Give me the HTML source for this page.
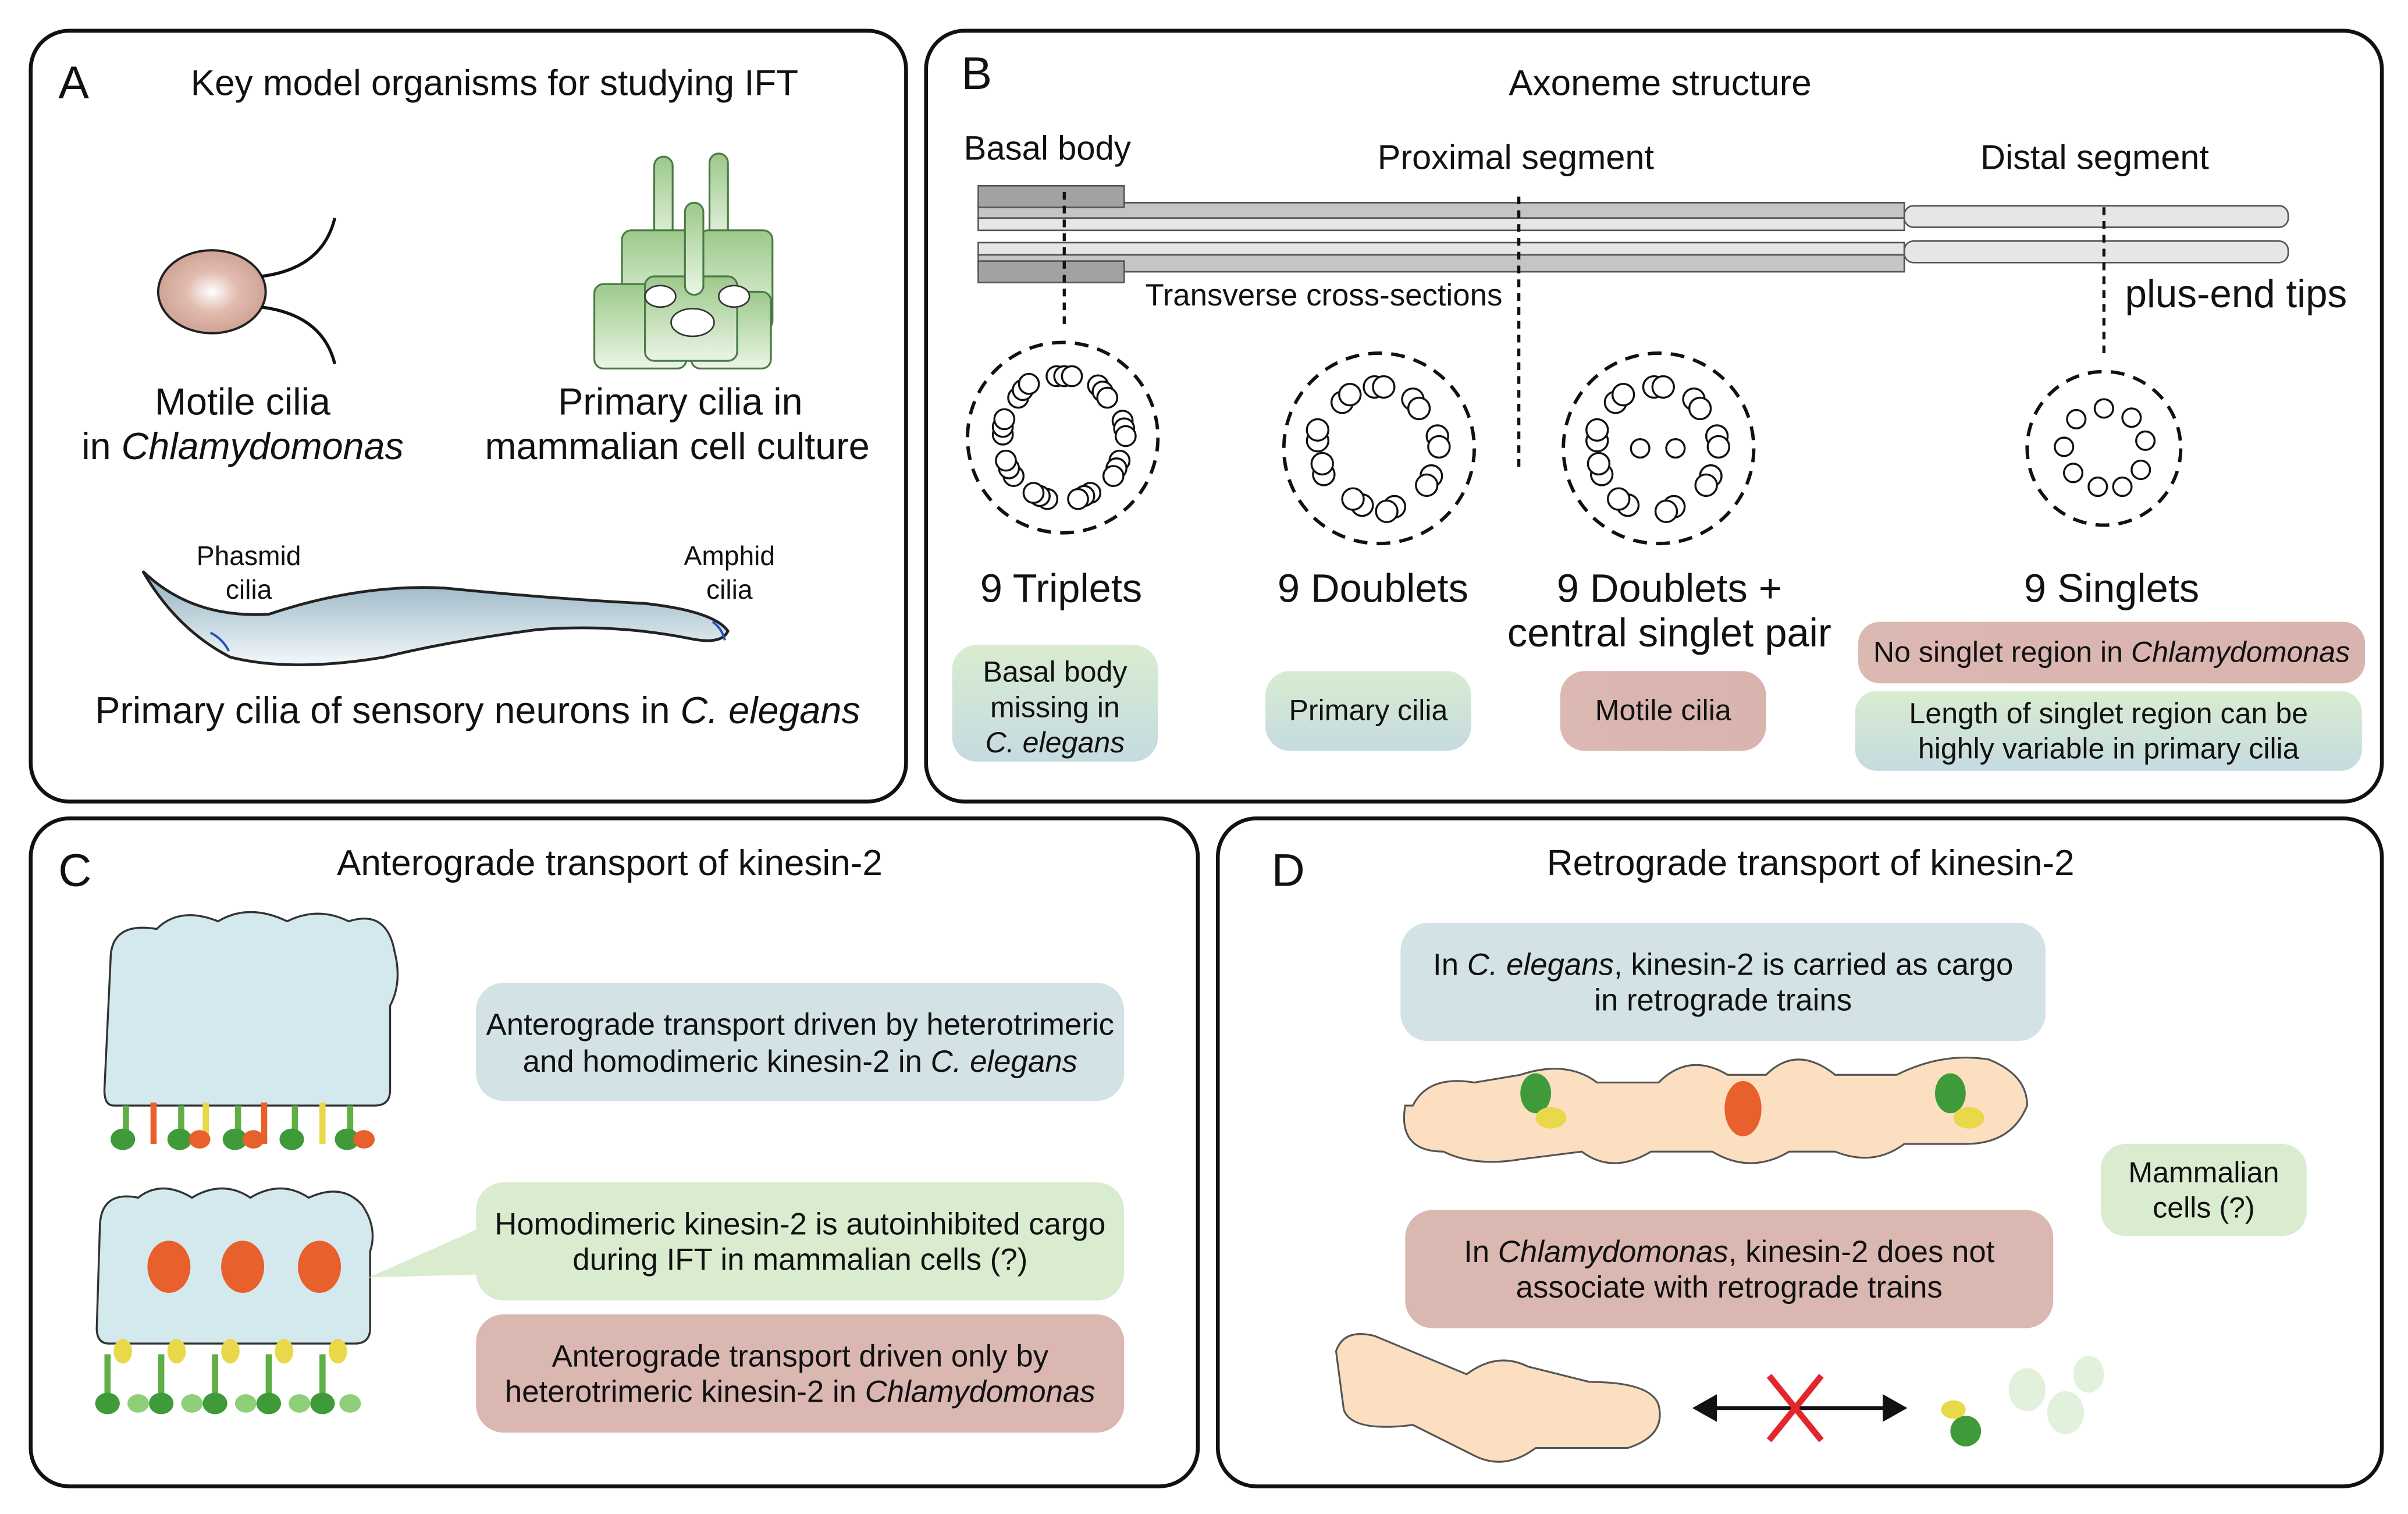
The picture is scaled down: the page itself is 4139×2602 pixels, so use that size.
<!DOCTYPE html>
<html><head><meta charset="utf-8"><style>
html,body{margin:0;padding:0;background:#fff;width:4139px;height:2602px;overflow:hidden}
svg{display:block}
text{font-family:"Liberation Sans",sans-serif;fill:#111}
</style></head><body>
<svg width="4139" height="2602" viewBox="0 0 1568 986" preserveAspectRatio="none" xmlns="http://www.w3.org/2000/svg">
<defs>
<linearGradient id="gb" x1="0" y1="0" x2="0" y2="1"><stop offset="0" stop-color="#d9ecd0"/><stop offset="1" stop-color="#c5dbe0"/></linearGradient>
<linearGradient id="gr" x1="0" y1="0" x2="1" y2="0"><stop offset="0" stop-color="#dcb8b2"/><stop offset="1" stop-color="#d9b3ad"/></linearGradient>
<linearGradient id="gg" x1="0" y1="0" x2="0" y2="1"><stop offset="0" stop-color="#9cc98a"/><stop offset="1" stop-color="#eaf5e5"/></linearGradient>
<linearGradient id="gw" x1="0" y1="0" x2="0" y2="1"><stop offset="0" stop-color="#8fb0bf"/><stop offset="1" stop-color="#f4f8fa"/></linearGradient>
<radialGradient id="gc" cx="0.5" cy="0.5" r="0.6"><stop offset="0" stop-color="#fff"/><stop offset="0.4" stop-color="#e2bcb0"/><stop offset="1" stop-color="#c99a8c"/></radialGradient>
</defs>
<g fill="none" stroke="#111" stroke-width="2.5">
<rect x="20" y="20" width="570" height="502" rx="25"/>
<rect x="603" y="20" width="948" height="502" rx="25"/>
<rect x="20" y="533" width="760" height="435" rx="25"/>
<rect x="793" y="533" width="758" height="435" rx="25"/>
</g>
<!-- Panel A -->
<text x="38" y="64" font-size="30">A</text>
<text x="322" y="62" font-size="23.5" text-anchor="middle">Key model organisms for studying IFT</text>
<ellipse cx="138" cy="190" rx="35" ry="27" fill="url(#gc)" stroke="#222" stroke-width="1.5"/>
<path d="M170 180 Q210 175 218 142 M170 200 Q210 205 218 237" fill="none" stroke="#111" stroke-width="2"/>
<text x="158" y="270" font-size="24.5" text-anchor="middle">Motile cilia</text>
<text x="158" y="299" font-size="24.5" text-anchor="middle">in <tspan font-style="italic">Chlamydomonas</tspan></text>
<g stroke="#4a7a45" stroke-width="1.2" fill="url(#gg)">
<rect x="426" y="102" width="12" height="60" rx="6"/><rect x="462" y="100" width="12" height="60" rx="6"/>
<rect x="405" y="150" width="52" height="60" rx="6"/><rect x="455" y="150" width="48" height="65" rx="6"/>
<rect x="387" y="185" width="60" height="55" rx="6"/><rect x="450" y="190" width="52" height="50" rx="6"/>
<rect x="420" y="180" width="60" height="55" rx="6"/>
<rect x="446" y="132" width="12" height="60" rx="6"/>
</g>
<ellipse cx="451" cy="210" rx="14" ry="9" fill="#fff" stroke="#333"/>
<ellipse cx="430" cy="193" rx="10" ry="7" fill="#fff" stroke="#333"/>
<ellipse cx="478" cy="193" rx="10" ry="7" fill="#fff" stroke="#333"/>
<text x="443" y="270" font-size="24.5" text-anchor="middle">Primary cilia in</text>
<text x="441" y="299" font-size="24.5" text-anchor="middle">mammalian cell culture</text>
<path d="M93 372 Q125 403 175 400 Q235 380 290 383 Q360 390 420 393 Q465 398 474 411 Q470 420 450 416 Q400 406 350 410 Q290 418 250 428 Q190 438 150 428 Q115 410 93 372 Z" fill="url(#gw)" stroke="#222" stroke-width="1.8"/>
<path d="M137 412 q8 4 12 12 M464 405 q6 4 8 12" stroke="#2a4fbf" stroke-width="1.5" fill="none"/>
<text x="162" y="368" font-size="17.5" text-anchor="middle">Phasmid</text><text x="162" y="390" font-size="17.5" text-anchor="middle">cilia</text>
<text x="475" y="368" font-size="17.5" text-anchor="middle">Amphid</text><text x="475" y="390" font-size="17.5" text-anchor="middle">cilia</text>
<text x="311" y="471" font-size="24.5" text-anchor="middle">Primary cilia of sensory neurons in <tspan font-style="italic">C. elegans</tspan></text>
<!-- Panel B -->
<text x="626" y="58" font-size="30">B</text>
<text x="1081" y="62" font-size="23.5" text-anchor="middle">Axoneme structure</text>
<text x="682" y="104" font-size="22" text-anchor="middle">Basal body</text>
<text x="987" y="110" font-size="22.5" text-anchor="middle">Proximal segment</text>
<text x="1364" y="110" font-size="22.5" text-anchor="middle">Distal segment</text>
<g stroke="#555" stroke-width="1">
<rect x="637" y="132" width="603" height="10" fill="#c5c5c7"/>
<rect x="637" y="142" width="603" height="8" fill="#e6e6e6"/>
<rect x="1240" y="134" width="250" height="14" rx="6" fill="#e6e6e6"/>
<rect x="637" y="158" width="603" height="8" fill="#e6e6e6"/>
<rect x="637" y="166" width="603" height="11" fill="#c5c5c7"/>
<rect x="1240" y="157" width="250" height="14" rx="6" fill="#e6e6e6"/>
<rect x="637" y="121" width="95" height="14" fill="#a2a2a4"/>
<rect x="637" y="170" width="95" height="14" fill="#a2a2a4"/>
</g>
<g stroke="#111" stroke-width="2" stroke-dasharray="5,4">
<line x1="693" y1="125" x2="693" y2="212"/>
<line x1="989" y1="128" x2="989" y2="306"/>
<line x1="1370" y1="135" x2="1370" y2="230"/>
</g>
<text x="862" y="199" font-size="20" text-anchor="middle">Transverse cross-sections</text>
<text x="1456" y="200" font-size="25.5" text-anchor="middle">plus-end tips</text>
<g fill="none" stroke="#111" stroke-width="2.2" stroke-dasharray="9,6">
<circle cx="692" cy="285" r="62"/><circle cx="898" cy="292" r="62"/><circle cx="1080" cy="292" r="62"/><circle cx="1370" cy="292" r="50"/>
</g>
<g fill="#fff" stroke="#111" stroke-width="1.3">
<g><circle cx="688" cy="245" r="6.5"/><circle cx="693" cy="245" r="6.5"/><circle cx="698" cy="245" r="6.5"/>
<circle cx="715" cy="251" r="6.5"/><circle cx="718" cy="255" r="6.5"/><circle cx="721" cy="259" r="6.5"/>
<circle cx="731" cy="274" r="6.5"/><circle cx="732" cy="279" r="6.5"/><circle cx="733" cy="284" r="6.5"/>
<circle cx="729" cy="300" r="6.5"/><circle cx="727" cy="305" r="6.5"/><circle cx="725" cy="310" r="6.5"/>
<circle cx="710" cy="321" r="6.5"/><circle cx="706" cy="323" r="6.5"/><circle cx="702" cy="325" r="6.5"/>
<circle cx="682" cy="325" r="6.5"/><circle cx="677" cy="323" r="6.5"/><circle cx="673" cy="321" r="6.5"/>
<circle cx="660" cy="310" r="6.5"/><circle cx="657" cy="305" r="6.5"/><circle cx="655" cy="300" r="6.5"/>
<circle cx="653" cy="283" r="6.5"/><circle cx="653" cy="278" r="6.5"/><circle cx="654" cy="273" r="6.5"/>
<circle cx="663" cy="259" r="6.5"/><circle cx="666" cy="254" r="6.5"/><circle cx="670" cy="250" r="6.5"/></g>
<g><circle cx="895" cy="252" r="7"/><circle cx="901" cy="252" r="7"/>
<circle cx="920" cy="260" r="7"/><circle cx="924" cy="266" r="7"/>
<circle cx="936" cy="284" r="7"/><circle cx="937" cy="291" r="7"/>
<circle cx="932" cy="310" r="7"/><circle cx="929" cy="316" r="7"/>
<circle cx="908" cy="330" r="7"/><circle cx="903" cy="333" r="7"/>
<circle cx="887" cy="329" r="7"/><circle cx="881" cy="325" r="7"/>
<circle cx="862" cy="309" r="7"/><circle cx="861" cy="302" r="7"/>
<circle cx="858" cy="287" r="7"/><circle cx="858" cy="280" r="7"/>
<circle cx="874" cy="262" r="7"/><circle cx="879" cy="257" r="7"/></g>
<g><circle cx="1077" cy="252" r="7"/><circle cx="1083" cy="252" r="7"/>
<circle cx="1103" cy="260" r="7"/><circle cx="1107" cy="266" r="7"/>
<circle cx="1118" cy="284" r="7"/><circle cx="1119" cy="291" r="7"/>
<circle cx="1114" cy="310" r="7"/><circle cx="1111" cy="316" r="7"/>
<circle cx="1090" cy="330" r="7"/><circle cx="1085" cy="333" r="7"/>
<circle cx="1060" cy="329" r="7"/><circle cx="1054" cy="325" r="7"/>
<circle cx="1043" cy="309" r="7"/><circle cx="1041" cy="302" r="7"/>
<circle cx="1040" cy="287" r="7"/><circle cx="1040" cy="280" r="7"/>
<circle cx="1052" cy="262" r="7"/><circle cx="1057" cy="257" r="7"/>
<circle cx="1068" cy="292" r="6"/><circle cx="1091" cy="292" r="6"/></g>
<g><circle cx="1370" cy="266" r="6"/><circle cx="1388" cy="272" r="6"/><circle cx="1397" cy="287" r="6"/><circle cx="1394" cy="306" r="6"/><circle cx="1382" cy="317" r="6"/><circle cx="1366" cy="317" r="6"/><circle cx="1350" cy="308" r="6"/><circle cx="1344" cy="291" r="6"/><circle cx="1352" cy="273" r="6"/></g>
</g>
<g font-size="26" text-anchor="middle">
<text x="691" y="392">9 Triplets</text><text x="894" y="392">9 Doublets</text>
<text x="1087" y="392">9 Doublets +</text><text x="1087" y="421">central singlet pair</text>
<text x="1375" y="392">9 Singlets</text></g>
<rect x="620" y="420" width="134" height="76" rx="16" fill="url(#gb)"/>
<g font-size="19" text-anchor="middle"><text x="687" y="444">Basal body</text><text x="687" y="467">missing in</text><text x="687" y="490" font-style="italic">C. elegans</text></g>
<rect x="824" y="437" width="134" height="52" rx="16" fill="url(#gb)"/>
<text x="891" y="469" font-size="19" text-anchor="middle">Primary cilia</text>
<rect x="1016" y="437" width="134" height="52" rx="16" fill="url(#gr)"/>
<text x="1083" y="469" font-size="19" text-anchor="middle">Motile cilia</text>
<rect x="1210" y="405" width="330" height="40" rx="14" fill="url(#gr)"/>
<text x="1375" y="431" font-size="19" text-anchor="middle">No singlet region in <tspan font-style="italic">Chlamydomonas</tspan></text>
<rect x="1208" y="450" width="330" height="52" rx="14" fill="url(#gb)"/>
<text x="1373" y="471" font-size="19" text-anchor="middle">Length of singlet region can be</text>
<text x="1373" y="494" font-size="19" text-anchor="middle">highly variable in primary cilia</text>
<!-- Panel C -->
<text x="38" y="577" font-size="30">C</text>
<text x="397" y="570" font-size="23.5" text-anchor="middle">Anterograde transport of kinesin-2</text>
<path d="M72 625 q0-25 30-20 q15-15 40-5 q20-12 45 0 q20-10 40 0 q25-8 30 20 q5 20-3 35 v55 q0 10-10 10 h-170 q-6 0-6-10 z" fill="#d4e9ee" stroke="#333" stroke-width="1.3"/>
<g stroke-width="4" fill="none">
<path d="M82 720 v25 M118 720 v25 M155 720 v25 M192 720 v25 M228 720 v25" stroke="#5fae46"/>
<path d="M100 718 v27 M172 718 v27" stroke="#e8602c"/>
<path d="M134 718 v27 M210 718 v27" stroke="#e8d84a"/>
</g>
<g fill="#3f9a3a"><ellipse cx="80" cy="742" rx="8" ry="7"/><ellipse cx="117" cy="742" rx="8" ry="7"/><ellipse cx="153" cy="742" rx="8" ry="7"/><ellipse cx="190" cy="742" rx="8" ry="7"/><ellipse cx="226" cy="742" rx="8" ry="7"/></g>
<g fill="#e8602c"><ellipse cx="130" cy="742" rx="7" ry="6"/><ellipse cx="165" cy="742" rx="7" ry="6"/><ellipse cx="237" cy="742" rx="7" ry="6"/></g>
<path d="M65 800 q0-25 25-20 q15-12 35 0 q20-12 38 0 q20-12 38 0 q22-10 35 5 q10 15 5 30 v50 q0 10-10 10 h-160 q-8 0-8-10 z" fill="#d4e9ee" stroke="#333" stroke-width="1.3"/>
<g fill="#e8602c"><ellipse cx="110" cy="825" rx="14" ry="17"/><ellipse cx="158" cy="825" rx="14" ry="17"/><ellipse cx="208" cy="825" rx="14" ry="17"/></g>
<g stroke="#5fae46" stroke-width="4"><path d="M70 882 v30 M105 882 v30 M140 882 v30 M175 882 v30 M210 882 v30"/></g>
<g fill="#e8d84a"><ellipse cx="80" cy="880" rx="6" ry="8"/><ellipse cx="115" cy="880" rx="6" ry="8"/><ellipse cx="150" cy="880" rx="6" ry="8"/><ellipse cx="185" cy="880" rx="6" ry="8"/><ellipse cx="220" cy="880" rx="6" ry="8"/></g>
<g fill="#3f9a3a"><ellipse cx="70" cy="914" rx="8" ry="7"/><ellipse cx="105" cy="914" rx="8" ry="7"/><ellipse cx="140" cy="914" rx="8" ry="7"/><ellipse cx="175" cy="914" rx="8" ry="7"/><ellipse cx="210" cy="914" rx="8" ry="7"/></g>
<g fill="#8fcf7a"><ellipse cx="90" cy="914" rx="7" ry="6"/><ellipse cx="125" cy="914" rx="7" ry="6"/><ellipse cx="160" cy="914" rx="7" ry="6"/><ellipse cx="195" cy="914" rx="7" ry="6"/><ellipse cx="228" cy="914" rx="7" ry="6"/></g>
<rect x="310" y="640" width="422" height="77" rx="18" fill="#d2e2e5"/>
<text x="521" y="674" font-size="20" text-anchor="middle">Anterograde transport driven by heterotrimeric</text>
<text x="521" y="698" font-size="20" text-anchor="middle">and homodimeric kinesin-2 in <tspan font-style="italic">C. elegans</tspan></text>
<path d="M240 832 L312 800 L312 830 Z" fill="#d9ecd0"/>
<rect x="310" y="770" width="422" height="77" rx="18" fill="#d9ecd0"/>
<text x="521" y="804" font-size="20" text-anchor="middle">Homodimeric kinesin-2 is autoinhibited cargo</text>
<text x="521" y="827" font-size="20" text-anchor="middle">during IFT in mammalian cells (?)</text>
<rect x="310" y="856" width="422" height="77" rx="18" fill="#dbb7b1"/>
<text x="521" y="890" font-size="20" text-anchor="middle">Anterograde transport driven only by</text>
<text x="521" y="913" font-size="20" text-anchor="middle">heterotrimeric kinesin-2 in <tspan font-style="italic">Chlamydomonas</tspan></text>
<!-- Panel D -->
<text x="828" y="577" font-size="30">D</text>
<text x="1179" y="570" font-size="23.5" text-anchor="middle">Retrograde transport of kinesin-2</text>
<rect x="912" y="601" width="420" height="77" rx="18" fill="#d2e2e5"/>
<text x="1122" y="635" font-size="20" text-anchor="middle">In <tspan font-style="italic">C. elegans</tspan>, kinesin-2 is carried as cargo</text>
<text x="1122" y="658" font-size="20" text-anchor="middle">in retrograde trains</text>
<g fill="#fbdfc0" stroke="#555" stroke-width="1.2">
<path d="M920 720 q10-20 40-15 l30-5 q30-10 50 5 l40 0 q20-20 45-5 l25 0 q20-20 45 0 l40 0 q30-15 60-10 q25 10 25 30 q-10 25-40 25 l-40 0 q-20 15-45 5 l-30 0 q-25 15-50 0 l-40 0 q-25 15-45 0 l-40 5 q-30 5-50 -5 q-30 0-25-30 z"/>
<path d="M870 880 q5-15 25-10 l60 25 q20-15 40-5 l40 10 q40 0 45 15 q5 20-20 28 l-60 0 q-20 15-40 5 l-40-20 q-40 5-45-10 z"/>
</g>
<g fill="#3f9a3a"><ellipse cx="1000" cy="712" rx="10" ry="13"/><ellipse cx="1270" cy="712" rx="10" ry="13"/><ellipse cx="1280" cy="932" rx="10" ry="10"/></g>
<g fill="#e8d84a"><ellipse cx="1010" cy="728" rx="10" ry="7"/><ellipse cx="1282" cy="728" rx="10" ry="7"/><ellipse cx="1272" cy="918" rx="8" ry="6"/></g>
<g fill="#e8602c"><ellipse cx="1135" cy="722" rx="12" ry="18"/></g>
<g fill="#cfe8c5" opacity="0.6"><ellipse cx="1320" cy="905" rx="12" ry="14"/><ellipse cx="1345" cy="920" rx="12" ry="14"/><ellipse cx="1360" cy="895" rx="10" ry="12"/></g>
<rect x="915" y="788" width="422" height="77" rx="18" fill="#dbb7b1"/>
<text x="1126" y="822" font-size="20" text-anchor="middle">In <tspan font-style="italic">Chlamydomonas</tspan>, kinesin-2 does not</text>
<text x="1126" y="845" font-size="20" text-anchor="middle">associate with retrograde trains</text>
<rect x="1368" y="745" width="134" height="60" rx="16" fill="#d9ecd0"/>
<text x="1435" y="770" font-size="19" text-anchor="middle">Mammalian</text>
<text x="1435" y="793" font-size="19" text-anchor="middle">cells (?)</text>
<line x1="1112" y1="917" x2="1230" y2="917" stroke="#111" stroke-width="2.5"/>
<path d="M1102 917 l16-9 v18 z M1242 917 l-16-9 v18 z" fill="#111"/>
<path d="M1152 896 l34 42 M1186 896 l-34 42" stroke="#e3262b" stroke-width="4"/>
</svg>
</body></html>
